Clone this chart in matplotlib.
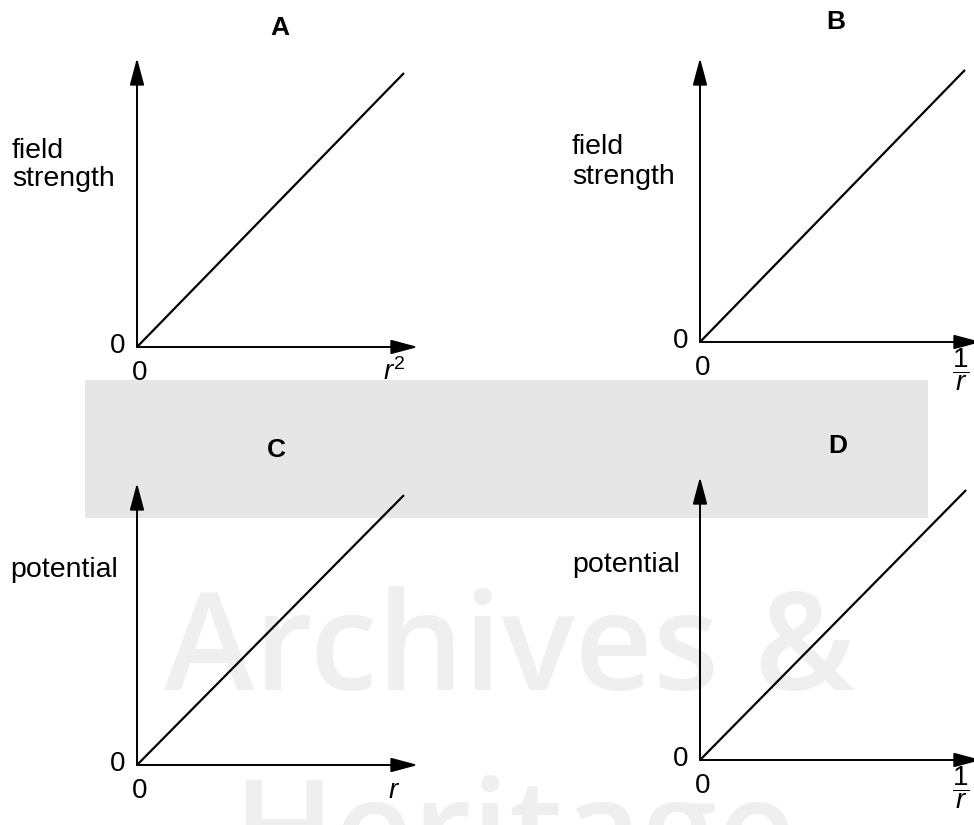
#!/usr/bin/env python3
"""Four sketch graphs: field strength / potential against r, r^2 and 1/r."""

import matplotlib
matplotlib.use("Agg")
import matplotlib.pyplot as plt
from matplotlib.patches import Rectangle

plt.rcParams["font.family"] = ["Liberation Sans", "DejaVu Sans"]
plt.rcParams["mathtext.fontset"] = "custom"
plt.rcParams["mathtext.rm"] = "Liberation Sans"
plt.rcParams["mathtext.it"] = "Liberation Sans:italic"

W, H = 974, 825

# panel data
panel_titles = ["A", "B", "C", "D"]
y_labels = ["field\nstrength", "field\nstrength", "potential", "potential"]
x_labels = [r"$r^{2}$", r"$\dfrac{1}{r}$", r"$r$", r"$\dfrac{1}{r}$"]
line_x = [[0, 0.95], [0, 0.943], [0, 0.95], [0, 0.947]]
line_y = [[0, 0.948], [0, 0.958], [0, 0.957], [0, 0.954]]

# pixel boxes: (origin x, origin y, arrow tip x, arrow tip y)
boxes = [(137, 347, 418, 58), (700, 342, 981, 58),
         (137, 765, 418, 483), (700, 760, 981, 477)]
title_pos = [(280, 28), (836, 22), (276, 450), (838, 446)]
ylab_pos = [(12, 165), (572, 162), (10, 570), (572, 565)]
xlab_pos = [(394, 372), (961, 370), (394, 791), (961, 788)]

fig = plt.figure(figsize=(W / 100, H / 100), dpi=100)

# background: grey band and watermark
bg = fig.add_axes([0, 0, 1, 1])
bg.set_xlim(0, W)
bg.set_ylim(H, 0)
bg.axis("off")
bg.add_patch(Rectangle((85, 380), 843, 138, color="#e6e6e6", lw=0, zorder=0))
bg.text(510, 690, "Archives &", fontsize=98, family="Open Sans", fontweight=600,
        color="#efefef", ha="center", va="baseline", zorder=1)
bg.text(232, 877, "Heritage", fontsize=98, family="Open Sans", fontweight=600,
        color="#efefef", ha="left", va="baseline", zorder=1)


def px(x, y):
    return x / W, 1 - y / H


for i in range(4):
    x0, y0, x1, y1 = boxes[i]
    left, bottom = px(x0, y0)
    ax = fig.add_axes([left, bottom, (x1 - x0) / W, (y0 - y1) / H])
    ax.set_xlim(0, 1)
    ax.set_ylim(0, 1)
    ax.axis("off")
    ax.patch.set_alpha(0)

    arrow = dict(arrowstyle="-|>,head_length=0.75,head_width=0.2", color="black",
                 lw=1.4, mutation_scale=22, shrinkA=0, shrinkB=0)
    ax.annotate("", xy=(0, 1), xytext=(0, 0), xycoords="axes fraction",
                arrowprops=arrow, annotation_clip=False)
    ax.annotate("", xy=(1, 0), xytext=(0, 0), xycoords="axes fraction",
                arrowprops=arrow, annotation_clip=False)
    ax.plot(line_x[i], line_y[i], color="black", lw=1.6, solid_capstyle="butt")

    tx, ty = title_pos[i]
    bg.text(tx, ty, panel_titles[i], fontsize=19, fontweight="bold",
            ha="center", va="center", zorder=5)
    lx, ly = ylab_pos[i]
    bg.text(lx, ly, y_labels[i], fontsize=20.5, ha="left", va="center",
            linespacing=1.15, zorder=5)
    bg.text(x0 - 19, y0 - 1, "0", fontsize=20, ha="center", va="center", zorder=5)
    bg.text(x0 + 3, y0 + 26, "0", fontsize=20, ha="center", va="center", zorder=5)
    xx, xy = xlab_pos[i]
    bg.text(xx, xy, x_labels[i], fontsize=20, ha="center", va="center", zorder=5)

fig.savefig("out.png", dpi=100)
